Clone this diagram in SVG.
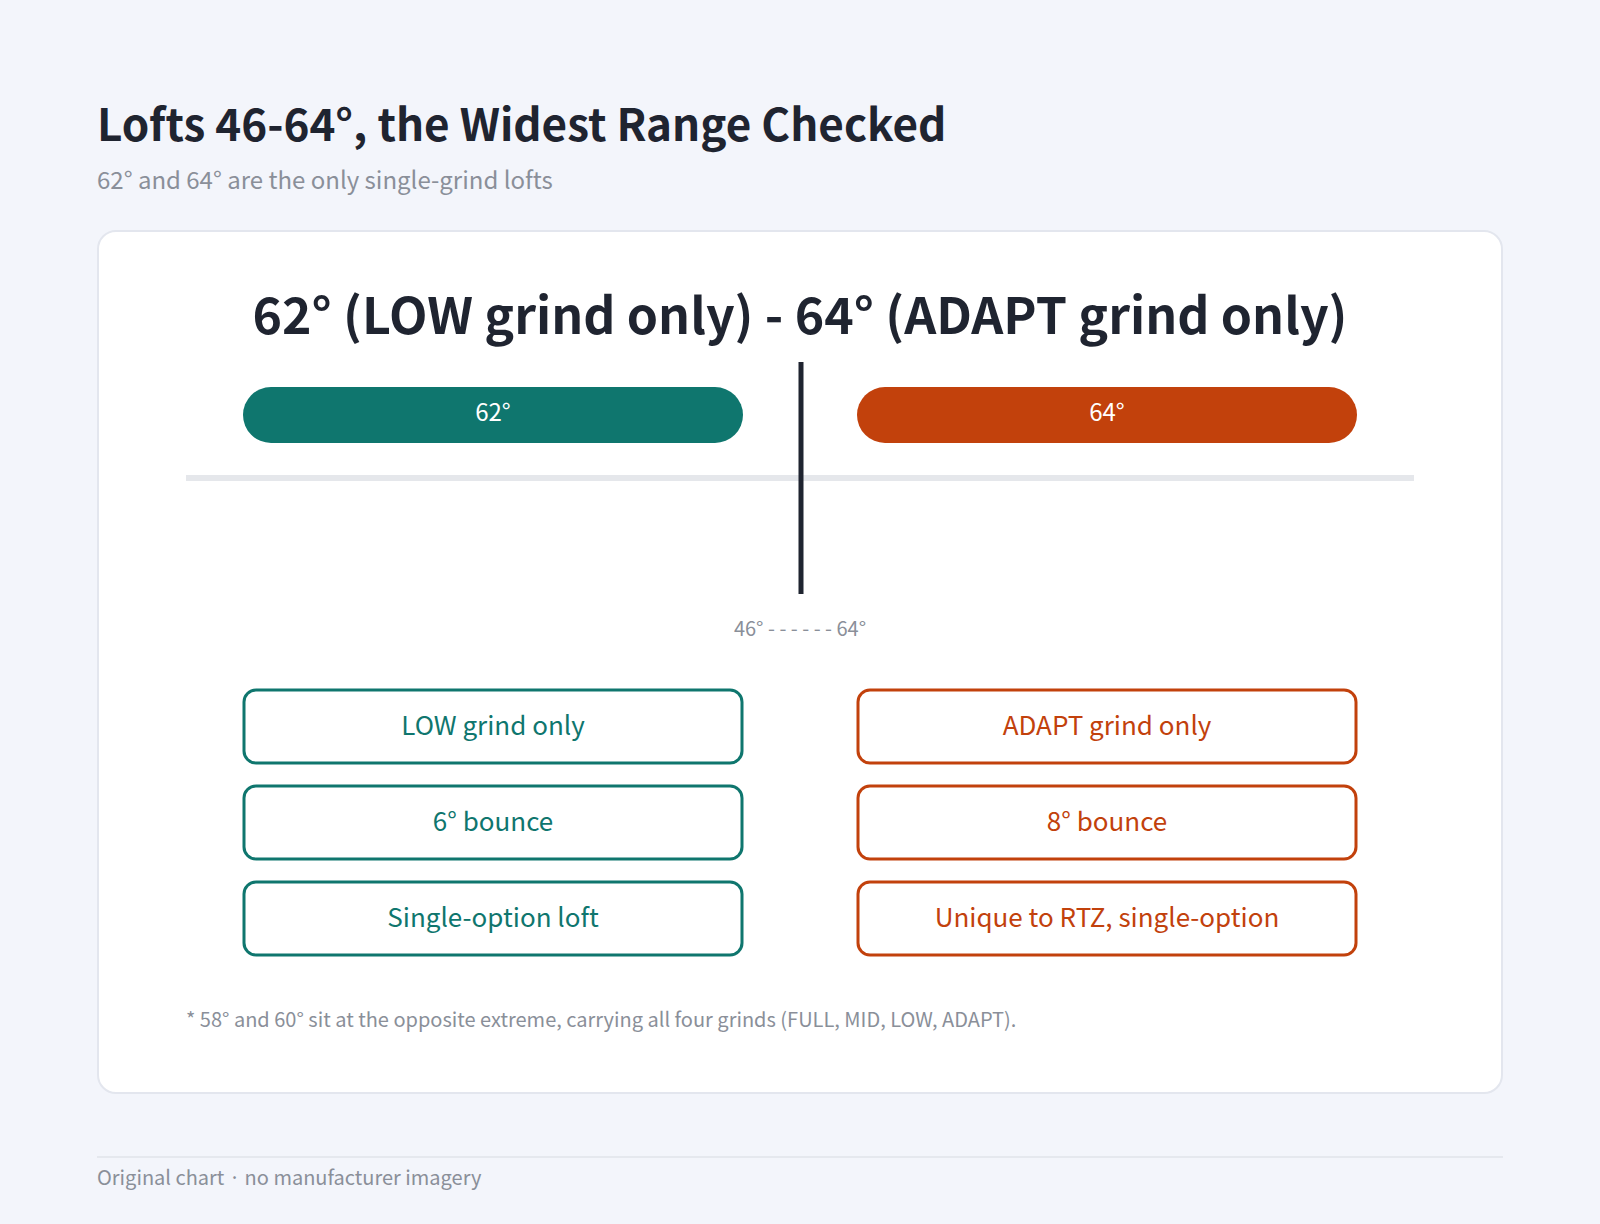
<svg xmlns="http://www.w3.org/2000/svg" width="1600" height="1224" viewBox="0 0 1600 1224">
<style>
text{font-family:"Noto Sans CJK KR","Noto Sans",sans-serif}
.t{fill:#0f766e}.o{fill:#c2410c}
.bt{fill:#fff;stroke:#0f766e;stroke-width:3}
.bo{fill:#fff;stroke:#c2410c;stroke-width:3}
.lbl{font-size:26px;text-anchor:middle}
.g{fill:#8a8f99}
</style>
<rect width="1600" height="1224" fill="#f3f5fb"/>
<text x="97" y="141" font-size="44" font-weight="bold" fill="#1f2430">Lofts 46-64°, the Widest Range Checked</text>
<text x="97" y="189" font-size="24" class="g">62° and 64° are the only single-grind lofts</text>
<rect x="98" y="231" width="1404" height="862" rx="18" fill="#fff" stroke="#e3e6ee" stroke-width="2"/>
<text x="800" y="334" font-size="50" font-weight="bold" text-anchor="middle" fill="#1f2430">62° (LOW grind only) - 64° (ADAPT grind only)</text>
<g id="connectors">
<line x1="186" y1="478" x2="1414" y2="478" stroke="#e5e7eb" stroke-width="6"/>
<line x1="801" y1="362" x2="801" y2="594" stroke="#1f2430" stroke-width="5"/>
</g>
<g id="bar62"><rect x="243" y="387" width="500" height="56" rx="28" class="t"/><text x="493" y="421" font-size="24" fill="#fff" text-anchor="middle">62°</text></g>
<g id="bar64"><rect x="857" y="387" width="500" height="56" rx="28" class="o"/><text x="1107" y="421" font-size="24" fill="#fff" text-anchor="middle">64°</text></g>
<text x="800" y="636" font-size="20" class="g" text-anchor="middle">46° - - - - - - 64°</text>
<g id="l1"><rect x="244" y="690" width="498" height="73" rx="12" class="bt"/><text x="493" y="735" class="lbl t">LOW grind only</text></g>
<g id="l2"><rect x="244" y="786" width="498" height="73" rx="12" class="bt"/><text x="493" y="831" class="lbl t">6° bounce</text></g>
<g id="l3"><rect x="244" y="882" width="498" height="73" rx="12" class="bt"/><text x="493" y="927" class="lbl t">Single-option loft</text></g>
<g id="r1"><rect x="858" y="690" width="498" height="73" rx="12" class="bo"/><text x="1107" y="735" class="lbl o">ADAPT grind only</text></g>
<g id="r2"><rect x="858" y="786" width="498" height="73" rx="12" class="bo"/><text x="1107" y="831" class="lbl o">8° bounce</text></g>
<g id="r3"><rect x="858" y="882" width="498" height="73" rx="12" class="bo"/><text x="1107" y="927" class="lbl o">Unique to RTZ, single-option</text></g>
<text x="186" y="1027" font-size="20" class="g">* 58° and 60° sit at the opposite extreme, carrying all four grinds (FULL, MID, LOW, ADAPT).</text>
<line x1="97" y1="1157" x2="1503" y2="1157" stroke="#e0e3ea" stroke-width="1.5"/>
<text x="97" y="1185" font-size="20" class="g">Original chart · no manufacturer imagery</text>
</svg>
